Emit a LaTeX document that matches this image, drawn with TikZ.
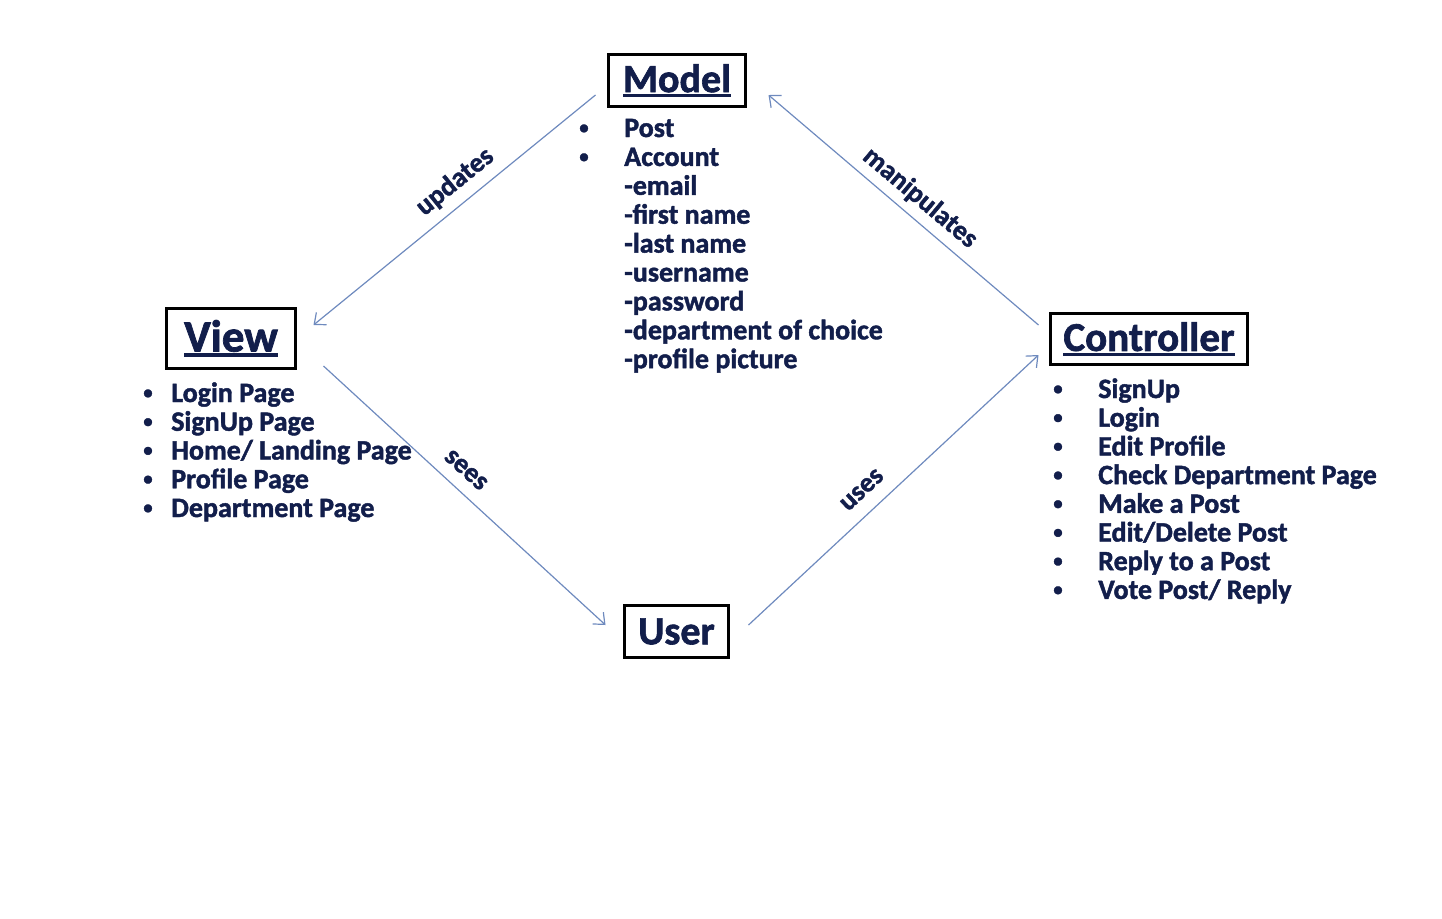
\documentclass[tikz,border=0pt]{standalone}
\usepackage{fontspec}
\setmainfont{Carlito}[BoldFeatures={FakeBold=1.6}]
\usetikzlibrary{arrows.meta}
\definecolor{navy}{RGB}{18,30,75}
\definecolor{arrowc}{RGB}{110,138,190}
\newcommand\titleul[1]{\setbox0\hbox{#1}\rlap{\rule[-0.12em]{\wd0}{0.08em}}\box0}
\newcommand\blt{\raisebox{0.12em}{\fontsize{14}{14}\selectfont •}}
\begin{document}
\begin{tikzpicture}[x=0.75pt,y=-0.75pt,
  titlebox/.style={draw=black, line width=2.25pt, inner sep=0pt, text=navy},
  listitem/.style={anchor=base west, inner sep=0pt, text=navy, font=\bfseries\fontsize{21}{24}\selectfont},
  bulletmark/.style={anchor=base, inner sep=0pt, text=navy, font=\bfseries\fontsize{21}{24}\selectfont},
  conn/.style={draw=arrowc, line width=0.9pt, -{Straight Barb[length=7pt,width=12pt]}},
  connlabel/.style={text=navy, font=\bfseries\fontsize{20.5}{24}\selectfont, inner sep=0pt}]
\useasboundingbox (0,0) rectangle (1442,918);

% boxes
\node[titlebox, minimum width=137*0.75pt, minimum height=52*0.75pt,
  font=\bfseries\fontsize{30}{34}\selectfont] (model) at (677,80.5) {\titleul{Model}};
\node[titlebox, minimum width=129*0.75pt, minimum height=60*0.75pt,
  font=\bfseries\fontsize{33.75}{38}\selectfont] (view) at (231,338.5) {\titleul{View}};
\node[titlebox, minimum width=197*0.75pt, minimum height=51*0.75pt,
  font=\bfseries\fontsize{30.75}{35}\selectfont] (controller) at (1149,339) {\titleul{Controller}};
\node[titlebox, minimum width=104*0.75pt, minimum height=52*0.75pt,
  font=\bfseries\fontsize{30}{34}\selectfont] (user) at (676.5,631.5) {User};

% model list
\foreach \t [count=\i from 0] in {Post,Account,-email,-first name,-last name,-username,-password,-department of choice,-profile picture}
  \node[listitem] (ml\i) at ({624},{137+28.9*\i}) {\t};
\node[bulletmark] (mb0) at (584,137) {\blt};
\node[bulletmark] (mb1) at (584,165.9) {\blt};

% view list
\foreach \t [count=\i from 0] in {Login Page,SignUp Page,Home/ Landing Page,Profile Page,Department Page}{
  \node[listitem] (vl\i) at ({171},{402+28.75*\i}) {\t};
  \node[bulletmark] (vb\i) at ({148},{402+28.75*\i}) {\blt};
}

% controller list
\foreach \t [count=\i from 0] in {SignUp,Login,Edit Profile,Check Department Page,Make a Post,Edit/Delete Post,Reply to a Post,Vote Post/ Reply}{
  \node[listitem] (cl\i) at ({1098},{398+28.7*\i}) {\t};
  \node[bulletmark] (cb\i) at ({1058},{398+28.7*\i}) {\blt};
}

% connectors
\draw[conn] ([shift={(-11.5,14.5)}]model.west) -- ([shift={(16.5,-13.5)}]view.east);
\draw[conn] ([shift={(-10.5,-14)}]controller.west) -- ([shift={(21.5,14.5)}]model.east);
\draw[conn] ([shift={(26.5,27.5)}]view.east) -- ([shift={(-17.5,-6.5)}]user.west);
\draw[conn] ([shift={(18.5,-6.5)}]user.east) -- ([shift={(-10.5,16)}]controller.west);

% connector labels
\node[connlabel, rotate=39] (lupdates) at (455,182) {updates};
\node[connlabel, rotate=-40] (lmanip) at (920,198) {manipulates};
\node[connlabel, rotate=-42] (lsees) at (466,470) {sees};
\node[connlabel, rotate=43] (luses) at (862,490) {uses};
\end{tikzpicture}
\end{document}
